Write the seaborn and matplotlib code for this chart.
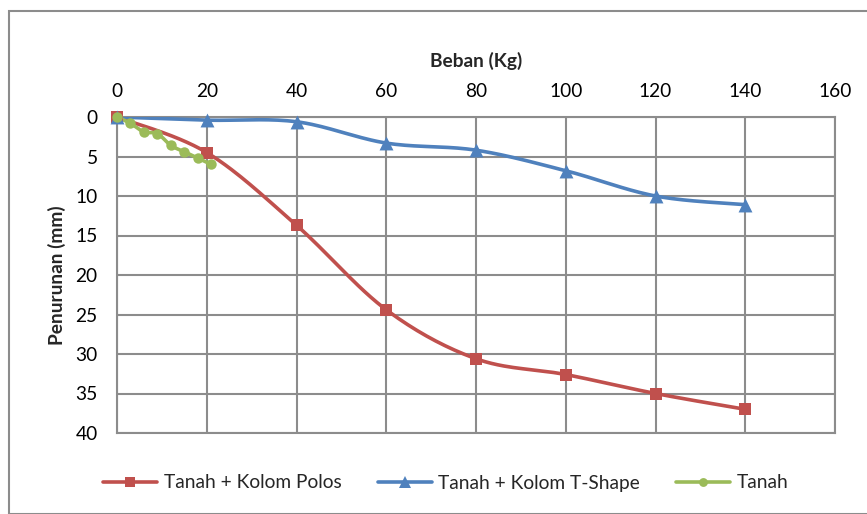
import numpy as np
import pandas as pd
import matplotlib
matplotlib.use("Agg")
import matplotlib.pyplot as plt
from matplotlib.lines import Line2D
from matplotlib.patches import Rectangle
import seaborn as sns

# Load (kg) and settlement (mm) for each test
beban_polos = [0, 20, 40, 60, 80, 100, 120, 140]
turun_polos = [0, 4.5, 13.7, 24.4, 30.6, 32.6, 35.0, 37.0]

beban_tshape = [0, 20, 40, 60, 80, 100, 120, 140]
turun_tshape = [0, 0.4, 0.6, 3.3, 4.2, 6.8, 10.0, 11.1]

beban_tanah = [0, 3, 6, 9, 12, 15, 18, 21]
turun_tanah = [0, 0.8, 1.9, 2.1, 3.6, 4.4, 5.2, 6.0]

x_ticks = [0, 20, 40, 60, 80, 100, 120, 140, 160]
y_ticks = [0, 5, 10, 15, 20, 25, 30, 35, 40]

RED = "#C0504D"
BLUE = "#4F81BD"
GREEN = "#9BBB59"
GRID = "#8C8C8C"

sns.set_theme(style="white")
plt.rcParams["font.family"] = ["Lato", "DejaVu Sans"]
FS = 13.8


def smooth(xs, ys, sx=4.49, sy=7.9, n=30):
    """Cubic Bezier smoothing through the points (Catmull-Rom style)."""
    p = np.column_stack([np.asarray(xs, float) * sx, np.asarray(ys, float) * sy])
    out = [p[0]]
    for i in range(len(p) - 1):
        p0 = p[i - 1] if i > 0 else p[i]
        p1, p2 = p[i], p[i + 1]
        p3 = p[i + 2] if i + 2 < len(p) else p[i + 1]
        c1 = p1 + (p2 - p0) / 6.0
        c2 = p2 - (p3 - p1) / 6.0
        t = np.linspace(0, 1, n)[1:, None]
        seg = ((1 - t) ** 3) * p1 + 3 * ((1 - t) ** 2) * t * c1 + 3 * (1 - t) * t ** 2 * c2 + t ** 3 * p2
        out.extend(seg)
    out = np.array(out)
    return out[:, 0] / sx, out[:, 1] / sy


fig = plt.figure(figsize=(8.67, 5.14), dpi=100)
ax = fig.add_axes([117 / 867, 1 - 433 / 514, (835 - 117) / 867, (433 - 117) / 514])

series = [
    ("Tanah + Kolom Polos", beban_polos, turun_polos, RED, "s", 9),
    ("Tanah + Kolom T-Shape", beban_tshape, turun_tshape, BLUE, "^", 10),
    ("Tanah", beban_tanah, turun_tanah, GREEN, "o", 7.5),
]

handles = []
for name, xs, ys, col, mk, ms in series:
    sx, sy = smooth(xs, ys)
    curve = pd.DataFrame({"x": sx, "y": sy})
    sns.lineplot(data=curve, x="x", y="y", ax=ax, color=col, lw=2.6,
                 sort=False, estimator=None, zorder=3)
    pts = pd.DataFrame({"x": xs, "y": ys})
    sns.scatterplot(data=pts, x="x", y="y", ax=ax, color=col, marker=mk,
                    s=ms ** 2, linewidth=0, zorder=4, clip_on=False)
    handles.append(Line2D([], [], color=col, lw=2.6, marker=mk, markersize=ms * 0.85,
                          markeredgewidth=0, label=name))

ax.set_xlim(0, 160)
ax.set_ylim(40, 0)
ax.set_xticks(x_ticks)
ax.set_yticks(y_ticks)
ax.xaxis.tick_top()
ax.xaxis.set_label_position("top")
ax.tick_params(axis="both", length=0, labelsize=FS, colors="black")
ax.tick_params(axis="x", pad=12)
ax.tick_params(axis="y", pad=14)
ax.grid(True, color=GRID, lw=1.5)
for s in ax.spines.values():
    s.set_color(GRID)
    s.set_linewidth(1.5)
ax.set_xlabel("Beban (Kg)", fontsize=FS, fontweight="bold", labelpad=12)
ax.set_ylabel("Penurunan (mm)", fontsize=FS, fontweight="bold", labelpad=7)

fig.legend(handles=handles, loc="center", bbox_to_anchor=(446 / 867, 1 - 483 / 514),
           ncol=3, frameon=False, fontsize=FS, handlelength=2.8, handletextpad=0.35,
           columnspacing=1.9)

fig.patches.append(Rectangle((9, 0), 900, 514 - 11, transform=None, fill=False,
                             edgecolor="#8C8C8C", lw=1.5))

fig.savefig("out.png", dpi=100)
